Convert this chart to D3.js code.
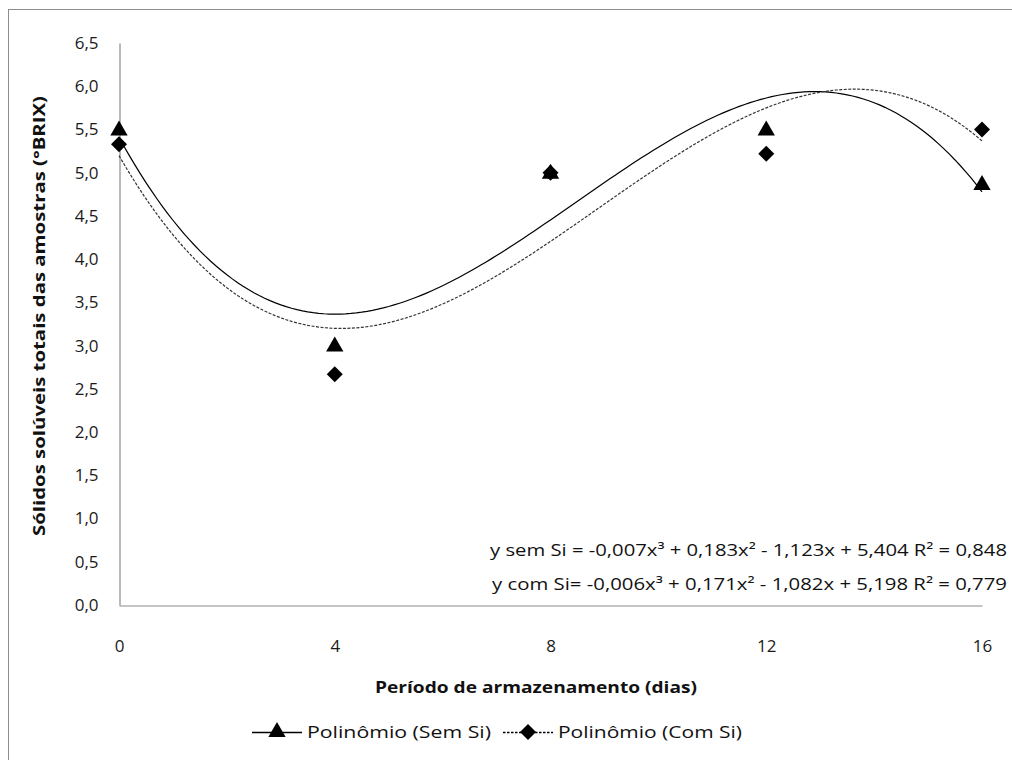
<!DOCTYPE html>
<html><head><meta charset="utf-8">
<script src="https://cdn.jsdelivr.net/npm/d3@7"></script>
<style>body{margin:0;background:#fff}svg{display:block}text{font-family:"Open Sans","Noto Sans",sans-serif}</style>
</head><body><svg id="c" width="1012" height="760"></svg>
<script>
const days = [0, 4, 8, 12, 16];
const semSi = [5.5, 3.0, 5.0, 5.5, 4.87];
const comSi = [5.33, 2.67, 5.0, 5.22, 5.5];
const yTicks = [0,0.5,1,1.5,2,2.5,3,3.5,4,4.5,5,5.5,6,6.5];
const eqSem = "y sem Si = -0,007x³ + 0,183x² - 1,123x + 5,404  R² = 0,848";
const eqCom = "y  com Si= -0,006x³ + 0,171x² - 1,082x + 5,198  R² = 0,779";
const seriesNames = ["Polinômio (Sem Si)", "Polinômio (Com Si)"];

const svg = d3.select("#c");
svg.append("rect").attr("x",8.5).attr("y",9.5).attr("width",1100).attr("height",800)
  .attr("fill","none").attr("stroke","#8c8c8c").attr("stroke-width",1);

const x = d3.scaleLinear().domain([0,16]).range([119,982]);
const y = d3.scaleLinear().domain([0,6.5]).range([605,43]);
const fmt = d => d3.format(".1f")(d).replace(".", ",");

// axes
const gx = svg.append("g").attr("transform","translate(0,605.5)")
  .call(d3.axisBottom(x).tickValues(days).tickSize(0).tickPadding(34).tickFormat(d=>d));
const gy = svg.append("g").attr("transform","translate(119.5,0)")
  .call(d3.axisLeft(y).tickValues(yTicks).tickSize(0).tickPadding(21).tickFormat(fmt));
[gx,gy].forEach(g=>{
  g.select(".domain").attr("stroke","#8c8c8c").attr("stroke-width",1.2);
  g.selectAll("text").attr("font-size",17).attr("fill","#1a1a1a");
});

// least-squares cubic fit from data
function cubicFit(xs, ys){
  const n=4, A=[...Array(n)].map(()=>Array(n+1).fill(0));
  for(let k=0;k<xs.length;k++){
    for(let i=0;i<n;i++){
      for(let j=0;j<n;j++) A[i][j]+=Math.pow(xs[k],i+j);
      A[i][n]+=ys[k]*Math.pow(xs[k],i);
    }
  }
  for(let i=0;i<n;i++){
    let p=i; for(let r=i+1;r<n;r++) if(Math.abs(A[r][i])>Math.abs(A[p][i])) p=r;
    [A[i],A[p]]=[A[p],A[i]];
    for(let r=0;r<n;r++){ if(r===i) continue; const f=A[r][i]/A[i][i];
      for(let c=i;c<=n;c++) A[r][c]-=f*A[i][c]; }
  }
  const c=A.map((row,i)=>row[n]/row[i]);
  return t=>c[0]+c[1]*t+c[2]*t*t+c[3]*t*t*t;
}
const fSem = cubicFit(days, semSi), fCom = cubicFit(days, comSi);
const ts = d3.range(0,16.001,0.1);
const line = f => d3.line().x(t=>x(t)).y(t=>y(f(t)))(ts);
svg.append("path").attr("d",line(fSem)).attr("fill","none").attr("stroke","#000").attr("stroke-width",1.2);
svg.append("path").attr("d",line(fCom)).attr("fill","none").attr("stroke","#333").attr("stroke-width",1.2).attr("stroke-dasharray","3,1.5");

const tri = d3.symbol().type(d3.symbolTriangle).size(130);
const dia = (cx,cy,r)=>`M${cx},${cy-r}L${cx+r},${cy}L${cx},${cy+r}L${cx-r},${cy}Z`;
svg.append("g").selectAll("path").data(days).join("path")
  .attr("d",tri).attr("transform",(d,i)=>`translate(${x(d)},${y(semSi[i])+1})`).attr("fill","#000");
svg.append("g").selectAll("path").data(days).join("path")
  .attr("d",(d,i)=>dia(x(d),y(comSi[i]),8)).attr("fill","#000");

// equations
svg.append("text").attr("x",1007).attr("y",556).attr("text-anchor","end").attr("font-size",16.5)
  .attr("fill","#111").attr("textLength",517).attr("lengthAdjust","spacingAndGlyphs").text(eqSem);
svg.append("text").attr("x",1007).attr("y",590).attr("text-anchor","end").attr("font-size",16.5)
  .attr("fill","#111").attr("textLength",515).attr("lengthAdjust","spacingAndGlyphs").text(eqCom);

// axis titles
svg.append("text").attr("x",536).attr("y",693).attr("text-anchor","middle").attr("font-size",16.5)
  .attr("font-weight","bold").attr("fill","#111").attr("textLength",322).attr("lengthAdjust","spacingAndGlyphs")
  .text("Período de armazenamento (dias)");
svg.append("text").attr("transform","translate(45,316) rotate(-90)").attr("text-anchor","middle")
  .attr("font-size",16.5).attr("font-weight","bold").attr("fill","#111")
  .attr("textLength",440).attr("lengthAdjust","spacingAndGlyphs")
  .text("Sólidos solúveis totais das amostras (°BRIX)");

// legend
const lg = svg.append("g");
lg.append("line").attr("x1",252).attr("x2",302).attr("y1",732.5).attr("y2",732.5).attr("stroke","#000").attr("stroke-width",1.3);
lg.append("path").attr("d",tri).attr("transform","translate(277,732)").attr("fill","#000");
lg.append("text").attr("x",307).attr("y",738).attr("font-size",16).attr("fill","#111")
  .attr("textLength",184).attr("lengthAdjust","spacingAndGlyphs").text(seriesNames[0]);
lg.append("line").attr("x1",503).attr("x2",553).attr("y1",732.5).attr("y2",732.5).attr("stroke","#000").attr("stroke-width",1.3).attr("stroke-dasharray","2.5,1.5");
lg.append("path").attr("d",dia(528,732,8)).attr("fill","#000");
lg.append("text").attr("x",558).attr("y",738).attr("font-size",16).attr("fill","#111")
  .attr("textLength",184).attr("lengthAdjust","spacingAndGlyphs").text(seriesNames[1]);
</script></body></html>
